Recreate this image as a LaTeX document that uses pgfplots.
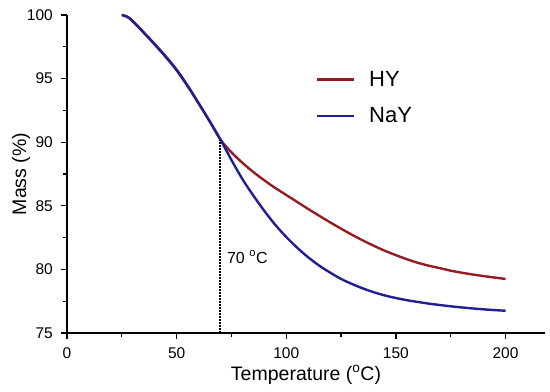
\documentclass[border=0pt]{standalone}
\usepackage{pgfplots}
\pgfplotsset{compat=1.18}
\usepackage{fontspec}
\setmainfont{Liberation Sans}
\definecolor{hycol}{RGB}{150,28,36}
\definecolor{naycol}{RGB}{32,30,145}
\begin{document}
\begin{tikzpicture}
\begin{axis}[
  name=ax,
  scale only axis,
  width=478bp, height=318bp,
  xmin=0, xmax=218, ymin=75, ymax=100,
  axis lines*=left,
  axis line style={line width=1.8bp, black},
  xtick={0,50,100,150,200},
  ytick={75,80,85,90,95,100},
  minor xtick={25,75,125,175},
  minor ytick={77.5,82.5,87.5,92.5,97.5},
  tick align=outside,
  major tick length=6bp,
  minor tick length=4bp,
  every tick/.style={black, line width=1.3bp},
  tick label style={font=\fontsize{15.5bp}{18bp}\selectfont},
  /pgf/number format/assume math mode=true,
  x tick label style={inner sep=0pt, anchor=north, yshift=-8bp},
  y tick label style={inner sep=0pt, anchor=east, xshift=-8bp},
  xlabel={Temperature (\textsuperscript{o}C)},
  ylabel={Mass (\%)},
  label style={font=\fontsize{19.5bp}{22bp}\selectfont},
  x label style={at={(axis description cs:0.5,-0.132)}, anchor=center},
  y label style={at={(axis description cs:-0.096,0.5)}, anchor=center, rotate=0},
  clip=false,
  legend cell align=left,
  legend style={draw=none, fill=none, at={(axis cs:113.5,93.5)}, anchor=west,
    font=\fontsize{22bp}{25bp}\selectfont, row sep=16bp, inner sep=0pt,
    /tikz/every even column/.append style={column sep=0bp}},
  legend image code/.code={\draw[#1] (0bp,0bp) -- (36.7bp,0bp);},
]
\addplot[hycol, line width=2.4bp, smooth] coordinates {
(25,100) (27.5,99.85) (30,99.5) (35,98.6) (40,97.67) (45,96.7) (50,95.65) (55,94.4) (60,93.05) (65,91.65) (70,90.2)
(75,89.2) (80,88.38) (85,87.65) (90,87.0) (95,86.4) (100,85.85) (105,85.3) (110,84.75) (115,84.22) (120,83.7)
(125,83.2) (130,82.72) (135,82.27) (140,81.85) (145,81.46) (150,81.12) (155,80.8) (160,80.52) (165,80.29)
(170,80.1) (175,79.9) (180,79.74) (185,79.6) (190,79.475) (195,79.36) (200,79.25)
};
\addlegendentry{\hspace{12bp}HY}
\addplot[naycol, line width=2.4bp, smooth] coordinates {
(25,100) (27.5,99.87) (30,99.52) (35,98.63) (40,97.72) (45,96.75) (50,95.7) (55,94.45) (60,93.08) (65,91.67) (70,90.2)
(75,88.6) (80,87.1) (85,85.8) (90,84.6) (95,83.5) (100,82.55) (105,81.7) (110,80.95) (115,80.3) (120,79.75)
(125,79.25) (130,78.85) (135,78.5) (140,78.2) (145,77.95) (150,77.75) (155,77.58) (160,77.44) (165,77.31)
(170,77.2) (175,77.1) (180,77.01) (185,76.93) (190,76.86) (195,76.8) (200,76.75)
};
\addlegendentry{\hspace{12bp}NaY}
\addplot[black, dash pattern=on 1.6bp off 1.4bp, line width=2bp, forget plot] coordinates {(70,75) (70,90.2)};
\node[anchor=base west, inner sep=0pt, font=\fontsize{16bp}{19bp}\selectfont] at (axis cs:72.9,80.5) {70 \textsuperscript{o}C};
\coordinate (bl) at (rel axis cs:0,0);
\coordinate (tr) at (rel axis cs:1,1);
\end{axis}
\pgfresetboundingbox
\path[use as bounding box] ([shift={(-67bp,-59bp)}]bl) rectangle ([shift={(5bp,15bp)}]tr);
\end{tikzpicture}
\end{document}
